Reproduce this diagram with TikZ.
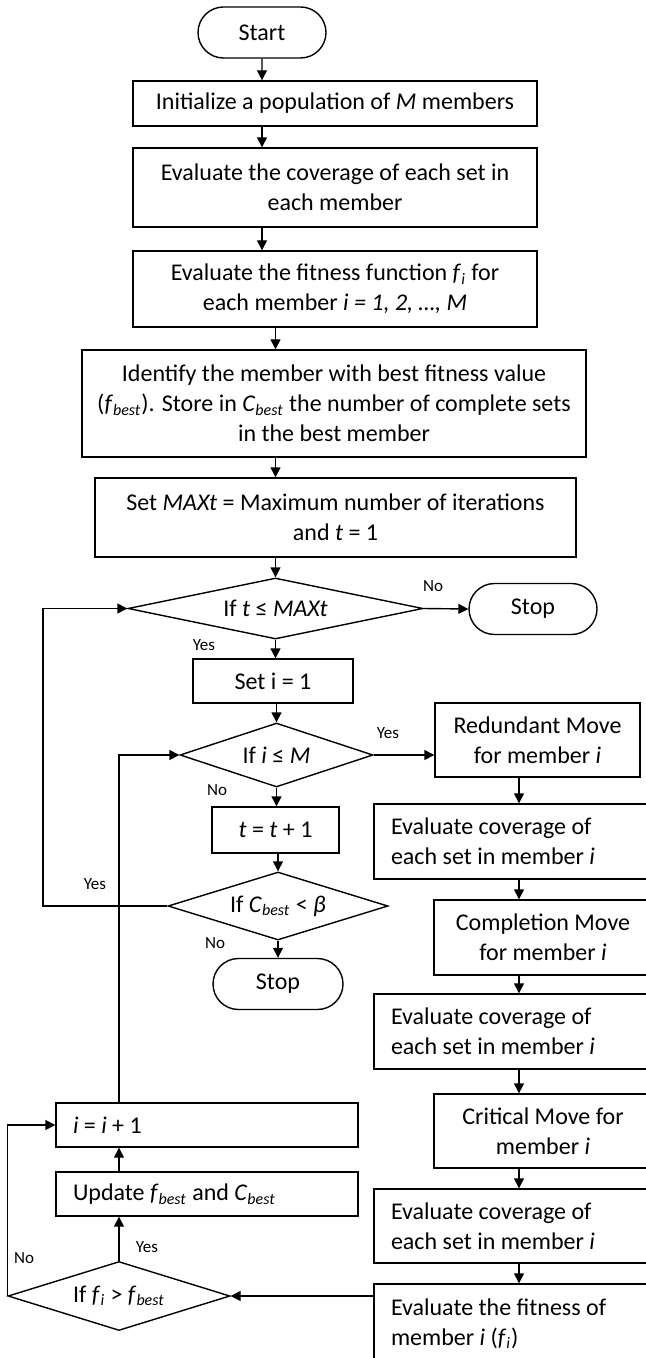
\documentclass[tikz,border=0pt]{standalone}
\usepackage{fontspec}
\setmainfont{Carlito}
\usepackage{tikz}
\usetikzlibrary{arrows.meta,shapes.geometric,shapes.misc}

\begin{document}
\begin{tikzpicture}
	[x=0.5pt,y=-0.5pt,line width=0.7pt,>={Triangle[length=5pt,width=5pt]},
		font=\fontsize{12}{15}\selectfont,
		proc node/.style={rectangle,draw,align=center,inner sep=0pt},
		term node/.style={rounded rectangle,draw,minimum width=64pt,minimum height=25.5pt,inner sep=0pt},
		dec node/.style={diamond,draw,inner sep=0pt},
		side node/.style={rectangle,draw,align=flush left,inner xsep=8.5pt,inner ysep=0pt},
		lbl node/.style={font=\fontsize{8.5}{10}\selectfont,inner sep=0pt}]

	\useasboundingbox (0,0) rectangle (646,1358);

	% main column
	\node[term node] (start) at (262,32.5) {Start};
	\node[proc node,minimum width=202pt,minimum height=22.5pt] (init) at (335,103.5) {Initialize a population of \textit{M} members};
	\node[proc node,minimum width=202pt,minimum height=39.5pt] (cov) at (335,187.5) {Evaluate the coverage of each set in\\each member};
	\node[proc node,minimum width=202pt,minimum height=38pt] (fit) at (335,289) {Evaluate the fitness function \textit{f}\textsubscript{\textit{i}} for\\each member \textit{i = 1, 2, \ldots, M}};
	\node[proc node,minimum width=252pt,minimum height=53.5pt] (ident) at (334,403.5) {Identify the member with best fitness value\\(\textit{f}\textsubscript{\textit{best}}). Store in \textit{C}\textsubscript{\textit{best}} the number of complete sets\\in the best member};
	\node[proc node,minimum width=240.5pt,minimum height=39.5pt] (maxt) at (335.5,517.5) {Set \textit{MAXt} = Maximum number of iterations\\and \textit{t} = 1};
	\node[dec node,aspect=4.8,minimum width=147.5pt,minimum height=30.5pt] (d1) at (275.5,608.5) {If \textit{t} ≤ \textit{MAXt}};
	\node[term node] (stop1) at (533,609) {Stop};
	\node[proc node,minimum width=80pt,minimum height=22pt] (seti) at (273,681) {Set i = 1};
	\node[dec node,aspect=3,minimum width=96.5pt,minimum height=32pt] (d2) at (276.5,755) {If \textit{i} ≤ \textit{M}};
	\node[proc node,minimum width=63.5pt,minimum height=23pt] (tinc) at (275.5,830) {\textit{t} = \textit{t} + 1};
	\node[dec node,aspect=3.2,minimum width=110pt,minimum height=34pt] (d3) at (278,906) {If \textit{C}\textsubscript{\textit{best}} < \textit{β}};
	\node[term node,minimum width=65pt] (stop2) at (278,984) {Stop};

	% right column
	\node[proc node,minimum width=102.5pt,minimum height=37pt] (red) at (537.5,740) {Redundant Move\\for member \textit{i}};
	\node[side node,text width=148pt,minimum height=37.5pt] (cov1) at (539,841.5) {Evaluate coverage of\\each set in member \textit{i}};
	\node[proc node,minimum width=109pt,minimum height=37.5pt] (comp) at (543,937.5) {Completion Move\\for member \textit{i}};
	\node[side node,text width=148pt,minimum height=37.5pt] (cov2) at (539,1031.5) {Evaluate coverage of\\each set in member \textit{i}};
	\node[proc node,minimum width=109pt,minimum height=37pt] (crit) at (543,1131) {Critical Move for\\member \textit{i}};
	\node[side node,text width=148pt,minimum height=37pt] (cov3) at (539,1226) {Evaluate coverage of\\each set in member \textit{i}};
	\node[side node,text width=148pt,minimum height=39.5pt] (evf) at (539,1323.5) {Evaluate the fitness of\\member \textit{i} (\textit{f}\textsubscript{\textit{i}})};

	% left column
	\node[side node,text width=134pt,minimum height=22pt] (iinc) at (207,1125) {\textit{i} = \textit{i} + 1};
	\node[side node,text width=134pt,minimum height=22pt] (upd) at (207,1194) {Update \textit{f}\textsubscript{\textit{best}} and \textit{C}\textsubscript{\textit{best}}};
	\node[dec node,aspect=3.2,minimum width=111pt,minimum height=34.5pt] (d4) at (119,1296) {If \textit{f}\textsubscript{\textit{i}} > \textit{f}\textsubscript{\textit{best}}};

	\coordinate (rx) at (519,0);
	\coordinate (lx) at (43,0);

	% branch labels
	\node[lbl node] (no1) at (433,586) {No};
	\node[lbl node] (yes1) at (204,645) {Yes};
	\node[lbl node] (yes2) at (388,733) {Yes};
	\node[lbl node] (no2) at (217,790) {No};
	\node[lbl node] (yes3) at (95,884) {Yes};
	\node[lbl node] (no3) at (215,943) {No};
	\node[lbl node] (yes4) at (147,1247) {Yes};
	\node[lbl node] (no4) at (24,1258) {No};

	\path[->]
	(start) edge (start |- init.north)
	(init.south -| start) edge (start |- cov.north)
	(cov.south -| start) edge (start |- fit.north)
	(fit.south -| d1) edge (d1 |- ident.north)
	(ident.south -| d1) edge (d1 |- maxt.north)
	(maxt.south -| d1) edge (d1.north)
	(d1.east) edge (stop1.west)
	(d1.south) edge (d1.south |- seti.north)
	(seti.south -| d2) edge (d2.north)
	(d2.east) edge (d2.east -| red.west)
	(d2.south) edge (d2.south |- tinc.north)
	(tinc.south -| d3) edge (d3.north)
	(d3.south) edge (stop2.north)
	(red.south -| rx) edge (rx |- cov1.north)
	(cov1.south -| rx) edge (rx |- comp.north)
	(comp.south -| rx) edge (rx |- cov2.north)
	(cov2.south -| rx) edge (rx |- crit.north)
	(crit.south -| rx) edge (rx |- cov3.north)
	(cov3.south -| rx) edge (rx |- evf.north)
	(evf.west |- d4.east) edge (d4.east)
	(d4.north) edge (d4.north |- upd.south)
	(upd.north -| d4) edge (d4 |- iinc.south)
	;

	% loops back
	\draw[->] (d3.west) -| (lx |- d1.west) -- (d1.west);
	\draw[->] (iinc.north -| d4) |- (d2.west);
	\draw[->] (d4.west) |- (iinc.west);

\end{tikzpicture}
\end{document}
